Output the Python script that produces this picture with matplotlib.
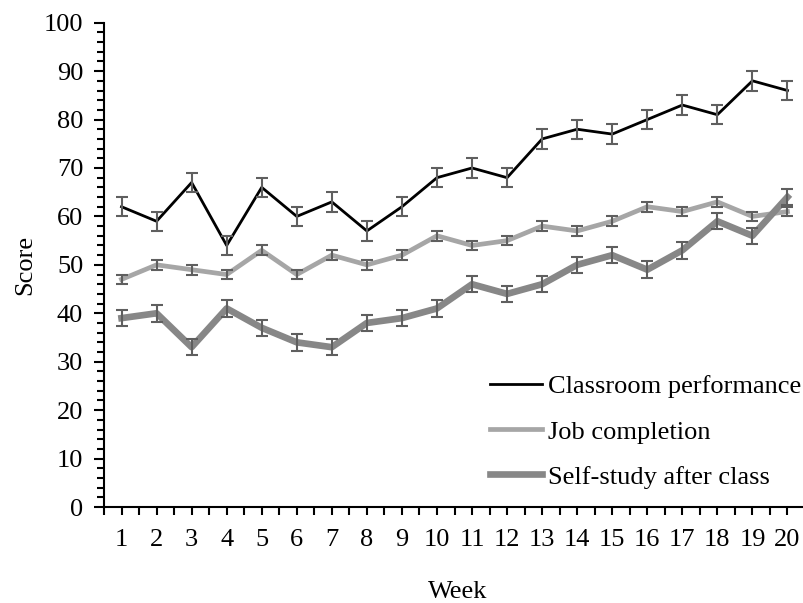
import matplotlib

matplotlib.use("Agg")
import matplotlib.pyplot as plt
from matplotlib.ticker import MultipleLocator

weeks = list(range(1, 21))
classroom = [62, 59, 67, 54, 66, 60, 63, 57, 62, 68, 70, 68, 76, 78, 77, 80, 83, 81, 88, 86]
job = [47, 50, 49, 48, 53, 48, 52, 50, 52, 56, 54, 55, 58, 57, 59, 62, 61, 63, 60, 61]
self_study = [39, 40, 33, 41, 37, 34, 33, 38, 39, 41, 46, 44, 46, 50, 52, 49, 53, 59, 56, 64]
errors = [2.0, 1.0, 1.7]
labels = ["Classroom performance", "Job completion", "Self-study after class"]

plt.rcParams["font.family"] = ["Liberation Serif", "DejaVu Serif"]
plt.rcParams["font.size"] = 19

fig = plt.figure(figsize=(8.04, 6.03), dpi=100)
ax = fig.add_axes([104 / 804, 96 / 603, 701 / 804, 484.3 / 603])

series = [classroom, job, self_study]
colors = ["black", "#a6a6a6", "#878787"]
widths = [2.0, 3.4, 4.8]
for vals, col, lw, lab in zip(series, colors, widths, labels):
    ax.plot(weeks, vals, color=col, lw=lw, label=lab, zorder=2)
for vals, err in zip(series, errors):
    ax.errorbar(weeks, vals, yerr=err, fmt="none", ecolor="#5f5f5f",
                elinewidth=1.5, capsize=4, capthick=1.5, zorder=3)

ax.set_xlim(0.5, 20.5)
ax.set_ylim(0, 100)
ax.set_xticks(weeks)
ax.set_xticks([w - 0.5 for w in weeks] + [20.5], minor=True)
ax.yaxis.set_major_locator(MultipleLocator(10))
ax.yaxis.set_minor_locator(MultipleLocator(2))

for side in ("top", "right"):
    ax.spines[side].set_visible(False)
for side in ("left", "bottom"):
    ax.spines[side].set_linewidth(1.5)

ax.tick_params(axis="x", which="both", direction="out", length=6, width=1.5, pad=10)
ax.tick_params(axis="y", which="major", direction="out", length=7, width=1.5, pad=8)
ax.tick_params(axis="y", which="minor", direction="out", length=5, width=1.5)

ax.set_xlabel("Week")
ax.set_ylabel("Score")
ax.xaxis.set_label_coords(0.505, -0.152)
ax.yaxis.set_label_coords(-0.097, 0.5)

ax.legend(loc="upper left", bbox_to_anchor=(490 / 804, 1 - 375 / 603),
          bbox_transform=fig.transFigure, frameon=False, borderpad=0,
          borderaxespad=0, handlelength=1.97, handletextpad=0.23,
          labelspacing=0.82)

fig.savefig("out.png", dpi=100)
